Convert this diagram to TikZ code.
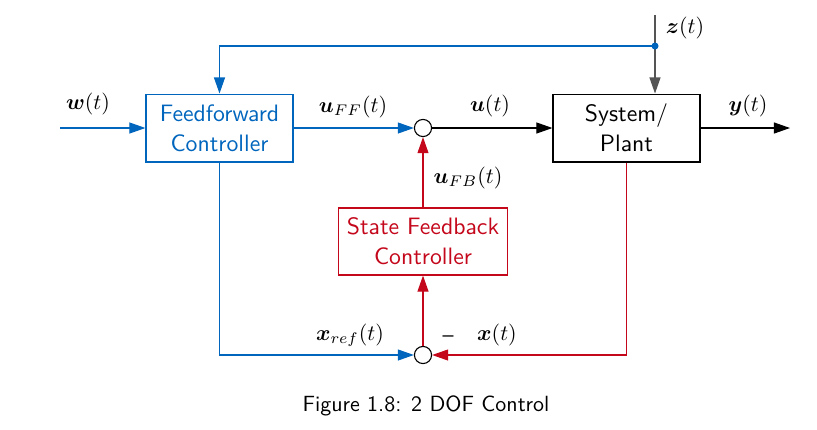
\documentclass[tikz,border=0pt]{standalone}
\usepackage{tikz}
\usetikzlibrary{positioning}
\usetikzlibrary{arrows.meta}
\usepackage{amsmath}
\usepackage{amssymb}
\usepackage{xcolor}

\definecolor{ctrlblue}{RGB}{0,101,189}
\definecolor{ctrlred}{RGB}{196,7,27}
\definecolor{distgray}{RGB}{85,85,85}

\begin{document}
\begin{tikzpicture}[x=0.455pt,y=-0.455pt,font=\sffamily,
  block/.style={draw, rectangle, align=center, inner sep=0pt, line width=0.5pt,
    font=\fontsize{10.8}{13.6}\selectfont\sffamily,
    minimum width=66.9pt, minimum height=30.9pt},
  sumnode/.style={draw, circle, inner sep=0pt, minimum size=7.8pt, line width=0.5pt},
  sig/.style={-{Triangle[length=7.3pt,width=5pt]}, line width=0.5pt},
  lbl/.style={inner sep=1pt}]

\useasboundingbox (0,0) rectangle (817,429);

% blocks
\node[block, draw=ctrlblue, text=ctrlblue] (ff) at (219.5,128) {Feedforward\\Controller};
\node[block] (plant) at (626.5,128) {System/\\Plant};
\node[block, draw=ctrlred, text=ctrlred, minimum width=76.9pt, minimum height=30.5pt] (sfb) at (423,241.5) {State Feedback\\Controller};

\node[sumnode] (sum1) at (423,128) {};
\node[sumnode] (sum2) at (423,355) {};

\coordinate (win) at (60,128);
\coordinate (yout) at (790,128);
\coordinate (ztop) at (655,15);
\coordinate (tap) at (655,46);

% signals
\draw[sig, ctrlblue] (win) -- (ff.west);
\draw[sig, ctrlblue] (ff.east) -- (sum1.west);
\draw[sig] (sum1.east) -- (plant.west);
\draw[sig] (plant.east) -- (yout);
\draw[sig, distgray] (ztop) -- (ztop |- plant.north);
\draw[sig, ctrlblue] (tap) -| (ff.north);
\fill[ctrlblue] (tap) circle (1.6pt);
\draw[sig, ctrlred] (sfb.north) -- (sum1.south);
\draw[sig, ctrlred] (sum2.north) -- (sfb.south);
\draw[sig, ctrlred] (plant.south) |- (sum2.east);
\draw[sig, ctrlblue] (ff.south) |- (sum2.west);

% labels
\node[lbl] (lw) at (88,104) {$\boldsymbol{w}(t)$};
\node[lbl] (luff) at (353,107) {$\boldsymbol{u}_{FF}(t)$};
\node[lbl] (lu) at (490,106) {$\boldsymbol{u}(t)$};
\node[lbl] (ly) at (748,106) {$\boldsymbol{y}(t)$};
\node[lbl] (lz) at (685,28) {$\boldsymbol{z}(t)$};
\node[lbl] (lufb) at (468,178) {$\boldsymbol{u}_{FB}(t)$};
\node[lbl] (lxref) at (350,335) {$\boldsymbol{x}_{ref}(t)$};
\node[lbl] (lx) at (497,335) {$\boldsymbol{x}(t)$};
\node[lbl] (lminus) at (448,339) {--};

\node (caption) at (426,406) {Figure 1.8: 2 DOF Control};

\end{tikzpicture}
\end{document}
